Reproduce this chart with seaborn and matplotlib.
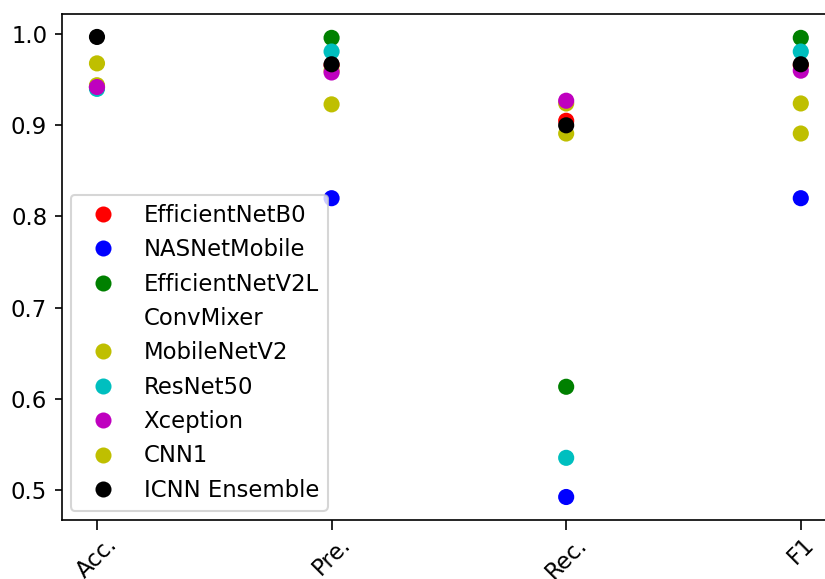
import pandas as pd
import matplotlib
matplotlib.use('Agg')
import matplotlib.pyplot as plt
import seaborn as sns

# metrics on the x axis
metrics = ['Acc.', 'Pre.', 'Rec.', 'F1']

# models in drawing order, with their colours
models = ['EfficientNetB0', 'NASNetMobile', 'EfficientNetV2L', 'ConvMixer',
          'MobileNetV2', 'ResNet50', 'Xception', 'CNN1', 'ICNN Ensemble']
colors = ['r', 'b', 'g', 'w', 'y', 'c', 'm', 'y', 'k']

# scores (Acc., Pre., Rec., F1)
efficientnetb0 = [0.942, 0.966, 0.905, 0.966]
nasnetmobile = [0.942, 0.820, 0.492, 0.820]
efficientnetv2l = [0.942, 0.996, 0.613, 0.996]
convmixer = [0.968, 0.923, 0.891, 0.923]
mobilenetv2 = [0.944, 0.960, 0.924, 0.924]
resnet50 = [0.940, 0.981, 0.535, 0.981]
xception = [0.942, 0.958, 0.927, 0.960]
cnn1 = [0.968, 0.923, 0.891, 0.891]
icnn_ensemble = [0.997, 0.967, 0.900, 0.967]

scores = [efficientnetb0, nasnetmobile, efficientnetv2l, convmixer,
          mobilenetv2, resnet50, xception, cnn1, icnn_ensemble]

# long form table, model by model so later models sit on top
rows = []
for name, vals in zip(models, scores):
    for m, v in zip(metrics, vals):
        rows.append({'model': name, 'metric': m, 'score': v})
df = pd.DataFrame(rows)

palette = dict(zip(models, colors))

plt.rcParams['font.size'] = 10.9

fig = plt.figure(figsize=(5.5, 3.86), dpi=150)
ax = fig.add_axes([0.0749, 0.1019, 0.9384, 0.874])

sns.scatterplot(data=df, x='metric', y='score', hue='model', hue_order=models,
                palette=palette, s=60, linewidth=0, ax=ax)

ax.set_xlim(-0.15, 3.15)
ax.set_xlabel('')
ax.set_ylabel('')
ax.set_yticks([0.5, 0.6, 0.7, 0.8, 0.9, 1.0])
ax.tick_params(axis='x', length=5, pad=1)
plt.setp(ax.get_xticklabels(), rotation=45)

sns.move_legend(ax, 'lower left', title=None, borderaxespad=0.4)
for h in ax.get_legend().legend_handles:
    h.set_markeredgewidth(0)
    h.set_markersize(7.7)

fig.savefig('out.png', dpi=150)
